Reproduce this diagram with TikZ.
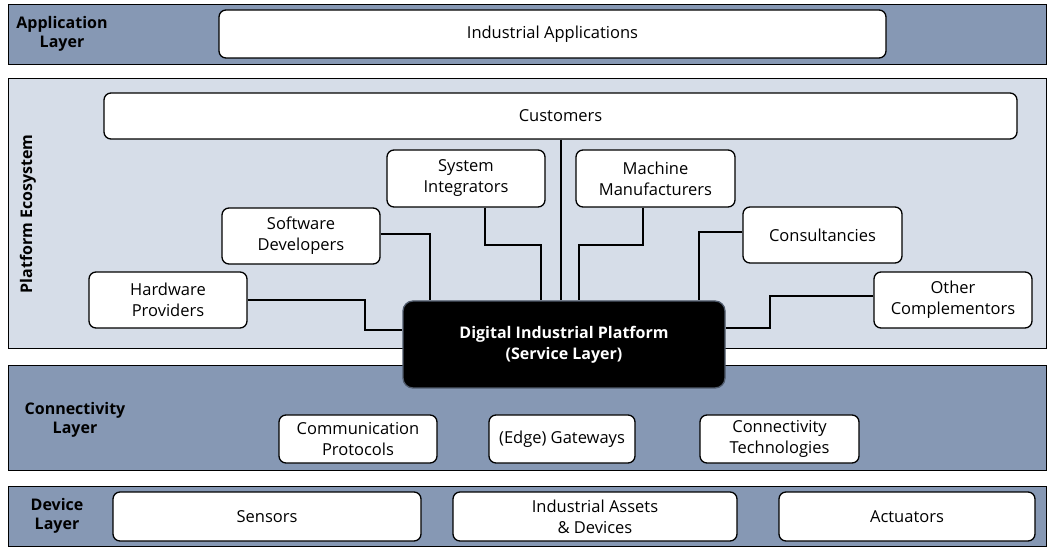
\documentclass[tikz,border=0pt]{standalone}
\usepackage{fontspec}
\setmainfont{Open Sans}
\begin{document}
\begin{tikzpicture}[x=1pt,y=-1pt,
  band/.style={draw=black,line width=1pt,fill=bandc},
  lbl/.style={font=\fontsize{16}{19}\selectfont\bfseries,align=center},
  box/.style={draw=black,line width=1.3pt,fill=white,rounded corners=7pt,font=\fontsize{16.5}{21}\selectfont,align=center,inner sep=0pt},
  con/.style={line width=1.3pt}]
\definecolor{bandc}{RGB}{134,152,180}
\definecolor{ecoc}{RGB}{214,221,232}
\useasboundingbox (0,0) rectangle (1053,553);
\fill[white] (0,0) rectangle (1053,553);
% bands
\draw[band] (8,5) rectangle (1046,65);
\node[lbl] (al) at (62,34) {Application\\Layer};
\draw[band,fill=ecoc] (8,79) rectangle (1046,349);
\node[lbl,rotate=90] (pe) at (28,214) {Platform Ecosystem};
\draw[band] (8,366) rectangle (1046,470);
\node[lbl] (cl) at (75,420) {Connectivity\\Layer};
\draw[band] (8,486) rectangle (1046,546);
\node[lbl] (dl) at (57,516) {Device\\Layer};
% boxes
\node[box,minimum width=667,minimum height=48] (ia) at (552.5,34) {Industrial Applications};
\node[box,minimum width=913,minimum height=46] (cu) at (560.5,116) {Customers};
\node[box,minimum width=158,minimum height=57] (si) at (466,178.5) {System\\Integrators};
\node[box,minimum width=159,minimum height=57] (mm) at (655.5,178.5) {Machine\\Manufacturers};
\node[box,minimum width=158,minimum height=56] (sd) at (301,236) {Software\\Developers};
\node[box,minimum width=159,minimum height=56] (cs) at (822.5,235) {Consultancies};
\node[box,minimum width=158,minimum height=56] (hp) at (168,300) {Hardware\\Providers};
\node[box,minimum width=158,minimum height=56] (oc) at (953,300) {Other\\Complementors};
\node[box,fill=black,text=white,font=\fontsize{16}{21}\selectfont\bfseries,draw=bandc!60!black,minimum width=322,minimum height=87,rounded corners=10pt] (dip) at (564,344.5) {Digital Industrial Platform\\(Service Layer)};
\node[box,minimum width=158,minimum height=48] (cp) at (358,439) {Communication\\Protocols};
\node[box,minimum width=146,minimum height=48] (eg) at (562,439) {(Edge) Gateways};
\node[box,minimum width=159,minimum height=48] (ct) at (779.5,439) {Connectivity\\Technologies};
\node[box,minimum width=308,minimum height=49] (se) at (267,516.5) {Sensors};
\node[box,minimum width=284,minimum height=49] (iad) at (595,516.5) {Industrial Assets\\\& Devices};
\node[box,minimum width=256,minimum height=49] (ac) at (907,516.5) {Actuators};
% connectors
\draw[con] (cu.south -| 561,0) -- (dip.north -| 561,0);
\draw[con] (si.south -| 485,0) |- (541,245) -- (dip.north -| 541,0);
\draw[con] (mm.south -| 643,0) |- (579,245) -- (dip.north -| 579,0);
\draw[con] (sd.east |- 0,234) -| (dip.north -| 430,0);
\draw[con] (cs.west |- 0,232) -| (dip.north -| 699,0);
\draw[con] (hp.east |- 0,300) -| (365,330) -- (dip.west |- 0,330);
\draw[con] (oc.west |- 0,296) -| (770,328) -- (dip.east |- 0,328);
\end{tikzpicture}
\end{document}
